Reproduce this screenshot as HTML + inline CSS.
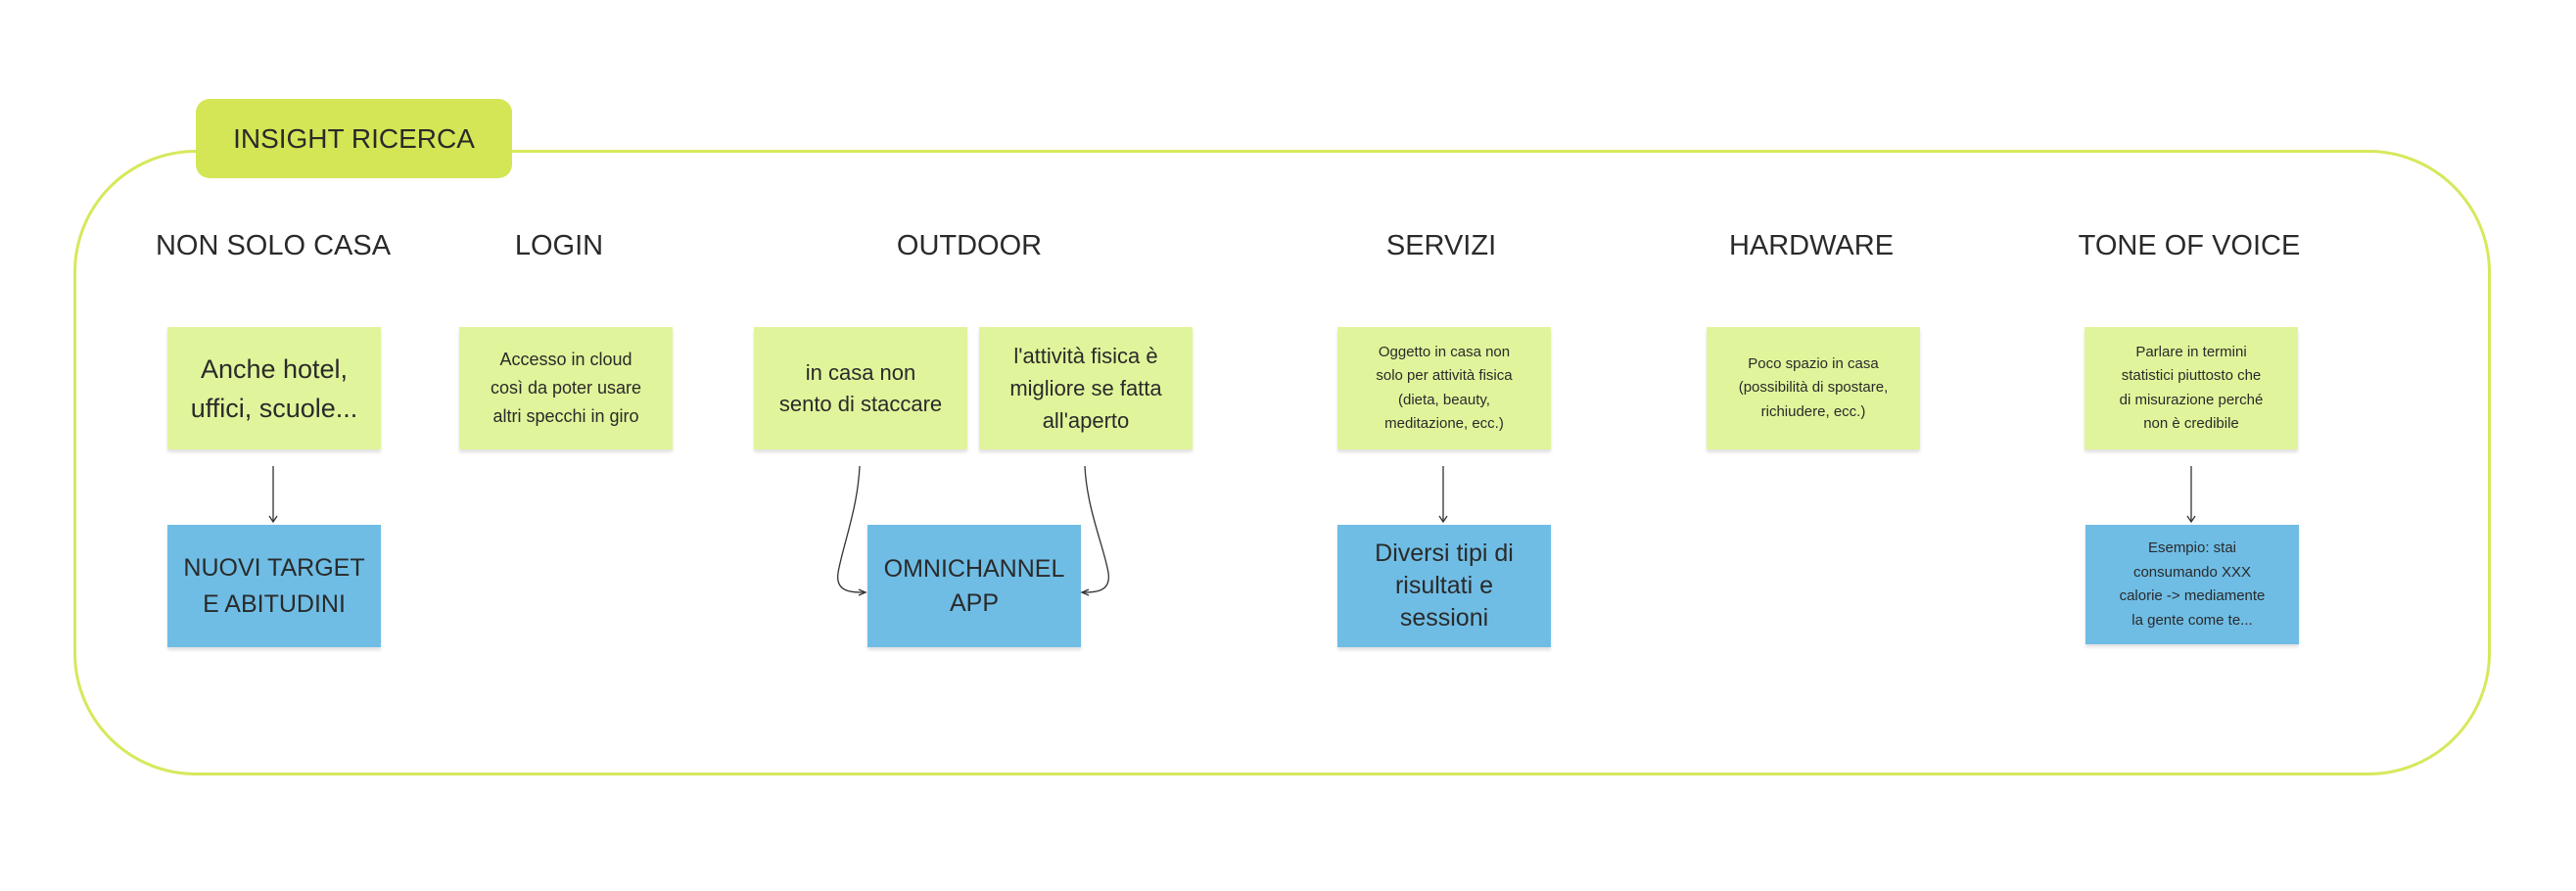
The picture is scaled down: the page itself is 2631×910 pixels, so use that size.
<!DOCTYPE html>
<html><head><meta charset="utf-8"><style>
body{margin:0;width:2631px;height:910px;background:#fff;position:relative;overflow:hidden;font-family:"Liberation Sans",sans-serif;color:#2a2a2a}
.frame{position:absolute;left:75px;top:153px;width:2463px;height:633px;border:3px solid #d7e85c;border-radius:125px}
.tab{position:absolute;left:200px;top:101px;width:323px;height:81px;background:#d4e655;border-radius:14px;display:flex;align-items:center;justify-content:center;font-size:28px}
.h{position:absolute;top:235px;font-size:29px;transform:translateX(-50%);white-space:nowrap}
.s{position:absolute;width:218px;height:125px;display:flex;align-items:center;justify-content:center;text-align:center;box-shadow:0 3px 3px rgba(0,0,0,.12);box-sizing:border-box;white-space:nowrap}
.g{background:#e0f59b;top:334px}
.b{background:#6fbde5;top:536px}
</style></head><body>
<div class="frame"></div>
<div class="tab">INSIGHT RICERCA</div>
<div class="h" style="left:279px">NON SOLO CASA</div>
<div class="h" style="left:571px">LOGIN</div>
<div class="h" style="left:990px">OUTDOOR</div>
<div class="h" style="left:1472px">SERVIZI</div>
<div class="h" style="left:1850px">HARDWARE</div>
<div class="h" style="left:2236px">TONE OF VOICE</div>

<div class="s g" style="left:171px;font-size:27px;line-height:40px">Anche hotel,<br>uffici, scuole...</div>
<div class="s g" style="left:469px;font-size:18px;line-height:29px">Accesso in cloud<br>così da poter usare<br>altri specchi in giro</div>
<div class="s g" style="left:770px;font-size:22px;line-height:32px">in casa non<br>sento di staccare</div>
<div class="s g" style="left:1000px;font-size:22px;line-height:33px">l'attività fisica è<br>migliore se fatta<br>all'aperto</div>
<div class="s g" style="left:1366px;font-size:15px;line-height:24.5px">Oggetto in casa non<br>solo per attività fisica<br>(dieta, beauty,<br>meditazione, ecc.)</div>
<div class="s g" style="left:1743px;font-size:15px;line-height:24.5px">Poco spazio in casa<br>(possibilità di spostare,<br>richiudere, ecc.)</div>
<div class="s g" style="left:2129px;font-size:15px;line-height:24.5px">Parlare in termini<br>statistici piuttosto che<br>di misurazione perché<br>non è credibile</div>

<div class="s b" style="left:171px;font-size:25px;line-height:37px">NUOVI TARGET<br>E ABITUDINI</div>
<div class="s b" style="left:886px;font-size:25px;line-height:35px">OMNICHANNEL<br>APP</div>
<div class="s b" style="left:1366px;font-size:25px;line-height:33px">Diversi tipi di<br>risultati e<br>sessioni</div>
<div class="s b" style="left:2130px;font-size:15px;line-height:24.5px;height:122px">Esempio: stai<br>consumando XXX<br>calorie -&gt; mediamente<br>la gente come te...</div>

<svg width="2631" height="910" style="position:absolute;left:0;top:0" fill="none" stroke="#333" stroke-width="1.3">
<line x1="279" y1="476" x2="279" y2="532"/><path d="M275 527 L279 533 L283 527" />
<line x1="1474" y1="476" x2="1474" y2="532"/><path d="M1470 527 L1474 533 L1478 527"/>
<line x1="2238" y1="476" x2="2238" y2="532"/><path d="M2234 527 L2238 533 L2242 527"/>
<path d="M878 476 C876 520 860 560 856 585 C853 605 870 605 883 605"/>
<path d="M877 602 L884 605 L877 608"/>
<path d="M1108 476 C1110 520 1128 560 1132 585 C1135 605 1118 605 1105 605"/>
<path d="M1112 602 L1105 605 L1112 608"/>
</svg>
</body></html>
